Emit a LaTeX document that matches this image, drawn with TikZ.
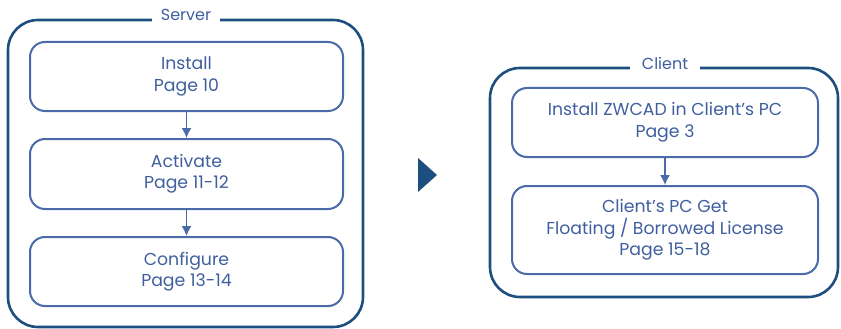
\documentclass[tikz,border=0pt]{standalone}
\usepackage{fontspec}
\setmainfont{Poppins}
\usetikzlibrary{arrows.meta}
\definecolor{outerblue}{HTML}{1D4E80}
\definecolor{innerblue}{HTML}{4A6BA8}
\definecolor{textblue}{HTML}{3F5F9F}
\begin{document}
\begin{tikzpicture}[x=1pt,y=-1pt]
        \useasboundingbox (0,0) rectangle (841,329);
        \tikzstyle{every node}=[text=textblue,font=\fontsize{16}{21.5}\selectfont,align=center]
        % outer groups
        \draw[outerblue,line width=2.6pt,rounded corners=30pt] (8,20) rectangle (363,327);
        \draw[outerblue,line width=2.6pt,rounded corners=30pt] (490,68) rectangle (838,297);
        \node[fill=white,minimum width=68pt,inner sep=1pt] (server) at (186,15) {Server};
        \node[fill=white,minimum width=70pt,inner sep=1pt] (client) at (665,63) {Client};
        % steps
        \tikzstyle{every node}=[text=textblue,font=\fontsize{17.3}{21.5}\selectfont,align=center,
            draw=innerblue,line width=2pt,rounded corners=15pt]
        \node[minimum width=313pt,minimum height=69pt] (install)   at (186.5,76.5) {Install\\Page 10};
        \node[minimum width=313pt,minimum height=70pt] (activate)  at (186.5,174)  {Activate\\Page 11-12};
        \node[minimum width=313pt,minimum height=69pt] (configure) at (186.5,271.5) {Configure\\Page 13-14};
        \node[minimum width=306pt,minimum height=69pt] (clientinstall) at (665,122.5) {Install ZWCAD in Client's PC\\Page 3};
        \node[minimum width=306pt,minimum height=88pt] (getlicense)    at (665,230) {Client's PC Get\\Floating / Borrowed License\\Page 15-18};
        \tikzstyle{every node}=[]
        \draw[innerblue,line width=1.5pt,-{Latex[length=10pt,width=10pt]}] (install) -- (activate);
        \draw[innerblue,line width=1.5pt,-{Latex[length=10pt,width=10pt]}] (activate) -- (configure);
        \draw[innerblue,line width=1.5pt,-{Latex[length=10pt,width=10pt]}] (clientinstall) -- (getlicense);
        % group arrow
        \fill[outerblue] (418,158) -- (437,175) -- (418,192) -- cycle;
    \end{tikzpicture}
\end{document}
